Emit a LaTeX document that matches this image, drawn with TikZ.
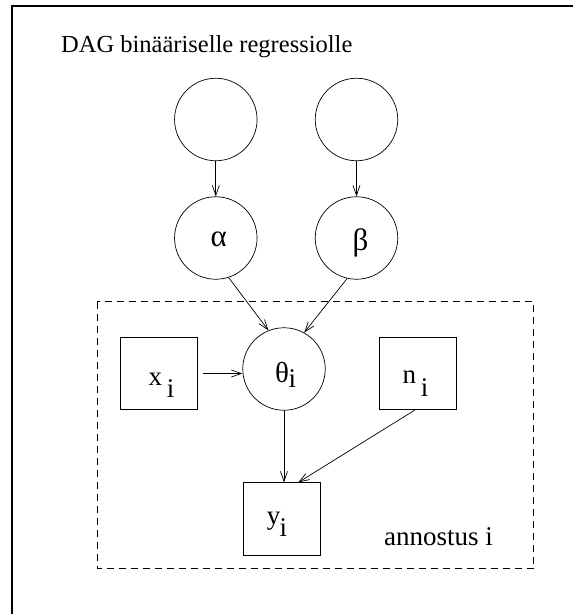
\documentclass[tikz,border=0pt]{standalone}
\usepackage{fontspec}
\setmainfont{Liberation Serif}
\usetikzlibrary{arrows.meta,calc}
\begin{document}
\begin{tikzpicture}[x=1pt,y=-1pt,
  var/.style={circle,draw,line width=0.7pt,minimum size=82.5pt,inner sep=0pt},
  obs/.style={rectangle,draw,line width=0.7pt,minimum width=77pt,minimum height=72.5pt,inner sep=0pt},
  txt/.style={anchor=base west,inner sep=0pt,font=\fontsize{27}{30}\selectfont},
  greek/.style={anchor=base west,inner sep=0pt,font=\fontsize{31}{34}\selectfont},
  arr/.style={line width=0.7pt,-{Straight Barb[length=10pt,width=7pt,line width=0.7pt]}},
  plate/.style={draw,line width=0.7pt,dash pattern=on 7pt off 5pt}]
\useasboundingbox (0,0) rectangle (573,614);
% frame
\draw[line width=1.3pt] (12,614) -- (12,6) -- (573,6);
% title
\node[anchor=base west,inner sep=0pt,font=\fontsize{24.5}{28}\selectfont] (title) at (61,52) {DAG binääriselle regressiolle};
% nodes
\node[var] (top1) at (215.8,119.5) {};
\node[var] (top2) at (356.5,119.5) {};
\node[var] (alpha) at (215.8,238) {};
\node[var] (beta) at (356.5,238) {};
\node[var] (theta) at (284,369) {};
\node[obs] (xi) at (159.2,373.5) {};
\node[obs] (ni) at (417.8,373.5) {};
\node[obs] (yi) at (281.8,519) {};
% plate
\draw[plate] (97.3,301.7) rectangle (533.7,568.5);
% labels
\node[greek] (alab) at (210.5,246.7) {α};
\node[greek] (blab) at (352.5,250) {β};
\node[greek,font=\fontsize{29}{32}\selectfont] (thlab) at (275,382) {θ};
\node[txt] (thsub) at (288.3,387.3) {i};
\node[txt] (xlab) at (148.3,385) {x};
\node[txt] (xsub) at (166.7,397.3) {i};
\node[txt] (nlab) at (402.3,383.3) {n};
\node[txt] (nsub) at (420.7,396.7) {i};
\node[txt] (ylab) at (266.7,524) {y};
\node[txt] (ysub) at (279.3,536.7) {i};
\node[txt] (plab) at (384,545) {annostus i};
% edges
\draw[arr] (top1) -- (alpha);
\draw[arr] (top2) -- (beta);
\draw[arr] (alpha.-72) -- (theta.112);
\draw[arr] (beta.-103) -- (theta.61);
\draw[arr] ([xshift=5pt]xi.east) -- (xi.east -| theta.west);
\draw[arr] (theta.south) -- (theta.south |- yi.north);
\draw[arr] ([xshift=-3pt]ni.south) -- ([xshift=16.5pt]yi.north);
\end{tikzpicture}
\end{document}
